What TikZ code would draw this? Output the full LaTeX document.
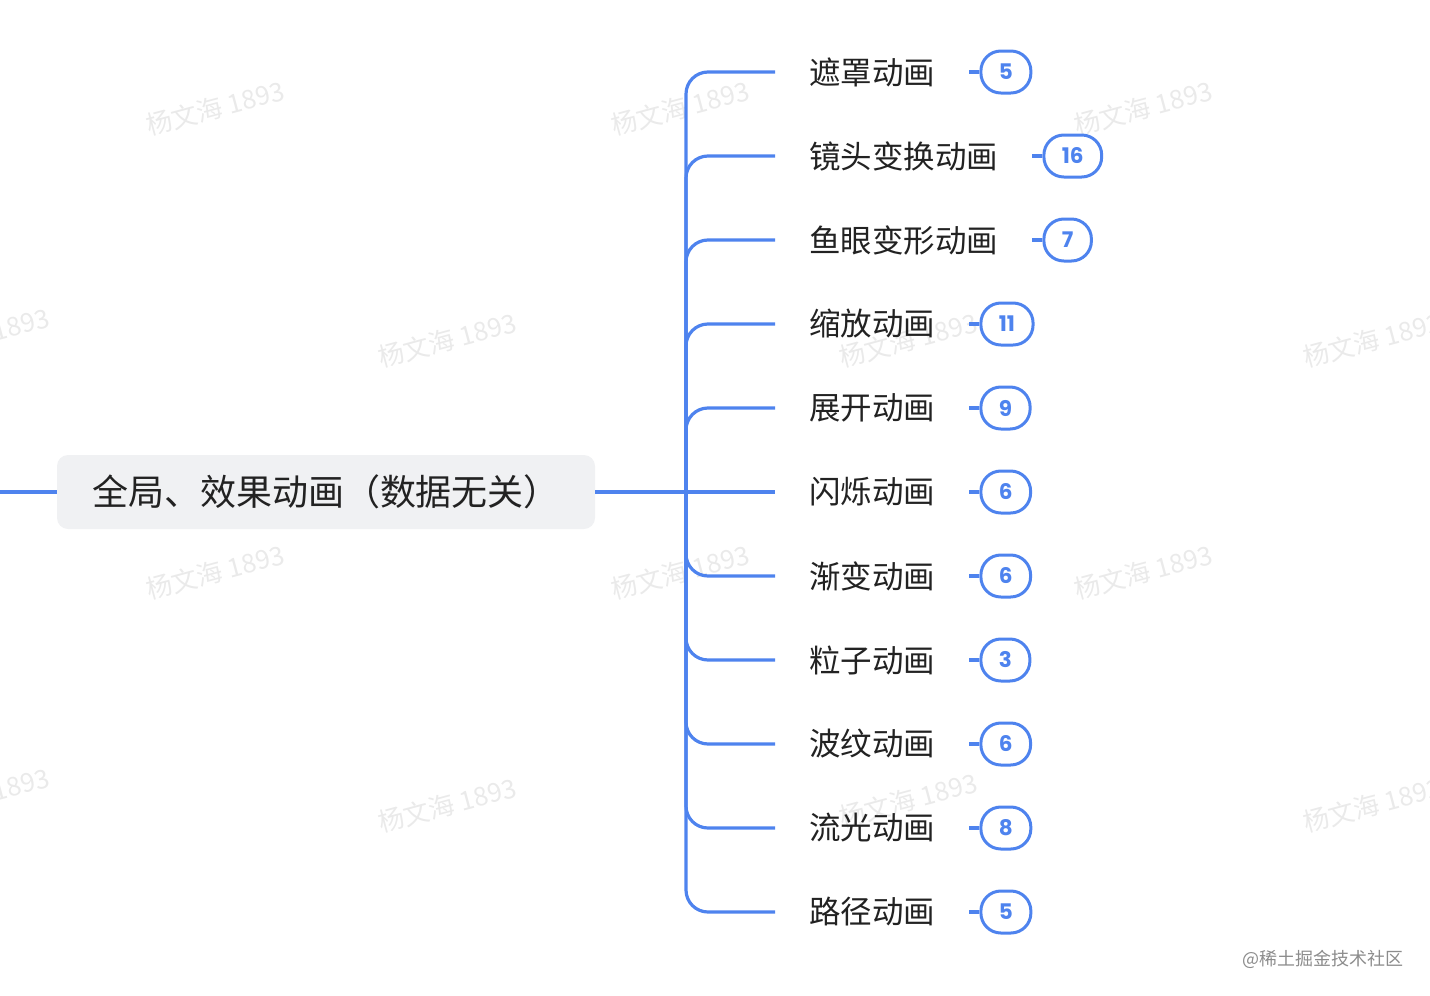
\documentclass[tikz,border=0pt]{standalone}
\usepackage{fontspec}
\setmainfont{Noto Sans CJK SC}
\newfontfamily\cjk{Noto Sans CJK SC}
\newfontfamily\numfont{Poppins}
\definecolor{mblue}{HTML}{4E83EE}
\definecolor{txt}{HTML}{222222}
\definecolor{rootfill}{HTML}{F0F1F3}
\definecolor{wm}{HTML}{EAEAEA}
\definecolor{foot}{HTML}{8C8C8C}
\tikzset{
  conn/.style={draw=mblue, line width=3.2pt, rounded corners=22pt},
  rootbox/.style={fill=rootfill, rounded corners=11pt, minimum width=538pt, minimum height=74pt,
    inner sep=0pt, font=\cjk\fontsize{36}{40}\selectfont, text=txt},
  child/.style={anchor=west, inner xsep=34pt, inner ysep=0pt, font=\cjk\fontsize{31.5}{36}\selectfont, text=txt},
  badge/.style={draw=mblue, line width=3pt, rounded corners=20pt, minimum width=47pt, minimum height=42pt,
    inner xsep=18pt, inner ysep=0pt, anchor=west, text=mblue, font=\numfont\bfseries\fontsize{21.5}{24}\selectfont},
  tick/.style={draw=mblue, line width=3.2pt},
  wmark/.style={text=wm, rotate=15, font=\cjk\fontsize{26}{30}\selectfont},
}
\begin{document}
\begin{tikzpicture}[x=1pt, y=-1pt]
\useasboundingbox (0,0) rectangle (1430,996);
% watermarks
\foreach \px/\py [count=\i] in {215/108, 680/108, 1143/108, -20/335, 447/340, 908/340, 1372/340, 215/572, 680/572, 1143/572, -20/795, 447/805, 908/800, 1372/805}
  \node[wmark] (wm\i) at (\px,\py) {杨文海 1893};
% root
\node[rootbox] (root) at (326,492) {全局、效果动画（数据无关）};
\coordinate (L) at (0,492);
\coordinate (J) at (686,492);
\draw[tick] (L) -- (root.west);
% children
\foreach \lab/\num [count=\i] in {遮罩动画/5, 镜头变换动画/16, 鱼眼变形动画/7, 缩放动画/11, 展开动画/9, 闪烁动画/6, 渐变动画/6, 粒子动画/3, 波纹动画/6, 流光动画/8, 路径动画/5} {
  \node[child] (c\i) at (775, {72+84*(\i-1)}) {\lab};
  \node[badge] (b\i) at ([xshift=10pt]c\i.east) {\num};
  \draw[tick] (c\i.east) -- (b\i.west);
}
\foreach \i in {1,2,3,4,5,7,8,9,10,11}
  \draw[conn] (J) |- (c\i.west);
\draw[tick] (root.east) -- (c6.west);
% footer
\node[text=foot, font=\cjk\fontsize{18}{20}\selectfont] (foot) at (1323,959) {@稀土掘金技术社区};
\end{tikzpicture}
\end{document}
